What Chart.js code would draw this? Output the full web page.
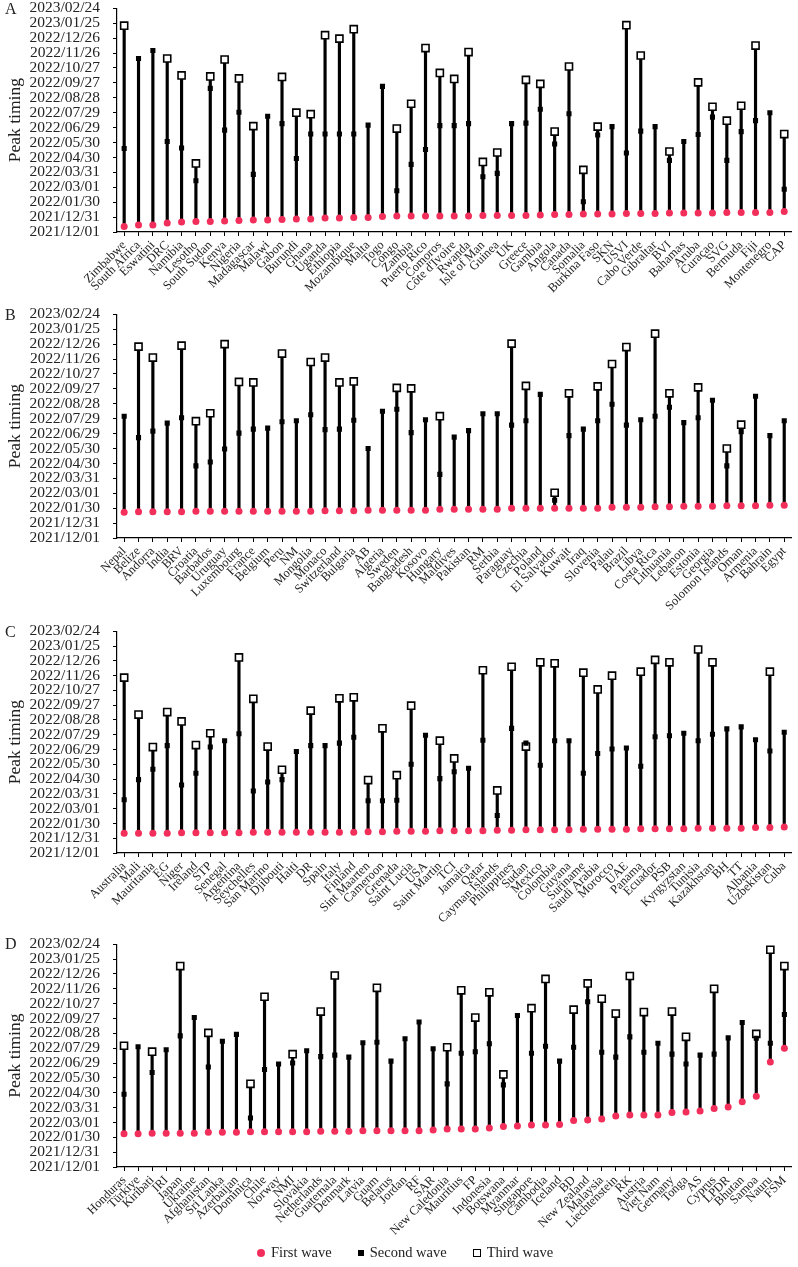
<!DOCTYPE html>
<html lang="en">
<head>
  <meta charset="UTF-8">
  <title>Peak timing</title>
  <style>
    body { margin: 0; background: #fff; width: 798px; height: 1267px; position: relative; overflow: hidden; }
    .panel { position: absolute; left: 0; width: 798px; }
    .tag { position: absolute; left: 5px; font: 16px "Liberation Serif", serif; color: #222; }
    #legend { position: absolute; left: 6px; top: 1244px; width: 798px; display: flex; justify-content: center;
      align-items: center; font: 14.5px "Liberation Serif", serif; color: #222; }
    #legend .item { display: flex; align-items: center; margin: 0 13px; }
    #legend .mark { display: inline-block; box-sizing: border-box; margin-right: 6px; }
    .m1 { width: 8px; height: 8px; border-radius: 50%; background: #f22e5b; }
    .m2 { width: 6px; height: 6px; background: #000; }
    .m3 { width: 8px; height: 8px; background: #fff; border: 1.6px solid #000; }
  </style>
</head>
<body>
  <div class="panel" style="top:-14px;height:326px"><canvas id="chartA"></canvas></div>
  <div class="panel" style="top:292px;height:326px"><canvas id="chartB"></canvas></div>
  <div class="panel" style="top:609px;height:324px"><canvas id="chartC"></canvas></div>
  <div class="panel" style="top:922px;height:325px"><canvas id="chartD"></canvas></div>
  <span class="tag" style="top:0px">A</span>
  <span class="tag" style="top:306px">B</span>
  <span class="tag" style="top:623px">C</span>
  <span class="tag" style="top:935px">D</span>
  <div id="legend">
    <span class="item"><i class="mark m1"></i>First wave</span>
    <span class="item"><i class="mark m2"></i>Second wave</span>
    <span class="item"><i class="mark m3"></i>Third wave</span>
  </div>
  <script src="https://cdn.jsdelivr.net/npm/chart.js"></script>
  <script>
    // y values are days after 2021/12/01
    const dateTicks = ["2021/12/01", "2021/12/31", "2022/01/30", "2022/03/01", "2022/03/31", "2022/04/30",
      "2022/05/30", "2022/06/29", "2022/07/29", "2022/08/28", "2022/09/27", "2022/10/27",
      "2022/11/26", "2022/12/26", "2023/01/25", "2023/02/24"];

    const countriesA = ["Zimbabwe", "South Africa", "Eswatini", "DRC", "Namibia", "Lesotho", "South Sudan", "Kenya",
      "Nigeria", "Madagascar", "Malawi", "Gabon", "Burundi", "Ghana", "Uganda", "Ethiopia", "Mozambique", "Malta",
      "Togo", "Congo", "Zambia", "Puerto Rico", "Comoros", "Côte d'Ivoire", "Rwanda", "Isle of Man", "Guinea", "UK",
      "Greece", "Gambia", "Angola", "Canada", "Somalia", "Burkina Faso", "SKN", "USVI", "Cabo Verde", "Gibraltar",
      "BVI", "Bahamas", "Aruba", "Curaçao", "SVG", "Bermuda", "Fiji", "Montenegro", "CAP"];
    const firstA = [11, 14, 14, 18, 20, 21, 21, 22, 23, 24, 24, 25, 26, 26, 28, 28, 29, 29, 31, 32, 32, 32, 32, 32,
      32, 33, 33, 33, 33, 34, 35, 35, 36, 36, 36, 37, 37, 37, 38, 38, 38, 38, 39, 39, 39, 39, 41];
    const secondA = [168, 349, 365, 182, 169, 103, 289, 205, 241, 116, 233, 218, 148, 197, 197, 197, 197, 215, 293,
      83, 136, 166, 214, 214, 218, 111, 118, 218, 219, 247, 177, 238, 61, 195, 212, 159, 203, 212, 144, 182, 196,
      231, 144, 202, 224, 240, 86];
    const thirdA = [415, null, null, 349, 315, 138, 313, 347, 309, 213, null, 312, 240, 237, 396, 389, 408, null,
      null, 208, 258, 370, 320, 308, 362, 141, 160, null, 306, 298, 202, 333, 125, 212, null, 416, 355, null, 162,
      null, 301, 252, 224, 254, 375, null, 197];

    const countriesB = ["Nepal", "Belize", "Andorra", "India", "BRV", "Croatia", "Barbados", "Uruguay", "Luxembourg",
      "France", "Belgium", "Peru", "NM", "Mongolia", "Monaco", "Switzerland", "Bulgaria", "AB", "Algeria", "Sweden",
      "Bangladesh", "Kosovo", "Hungary", "Maldives", "Pakistan", "RM", "Serbia", "Paraguay", "Czechia", "Poland",
      "El Salvador", "Kuwait", "Iraq", "Slovenia", "Palau", "Brazil", "Libya", "Costa Rica", "Lithuania", "Lebanon",
      "Estonia", "Georgia", "Solomon Islands", "Oman", "Armenia", "Bahrain", "Egypt"];
    const firstB = [52, 53, 53, 53, 53, 54, 54, 54, 54, 54, 54, 54, 54, 54, 55, 55, 55, 56, 56, 56, 56, 56, 58, 58,
      58, 58, 58, 60, 60, 60, 60, 60, 60, 60, 62, 62, 62, 63, 63, 64, 64, 64, 65, 65, 65, 66, 66];
    const secondB = [245, 202, 215, 231, 242, 145, 153, 179, 211, 219, 221, 234, 236, 248, 218, 219, 237, 180, 255,
      259, 212, 238, 128, 203, 216, 250, 250, 227, 236, 289, 76, 206, 219, 236, 269, 227, 238, 245, 263, 232, 242,
      277, 145, 214, 285, 206, 236];
    const thirdB = [null, 385, 363, null, 387, 235, 251, 390, 314, 313, null, 371, null, 354, 363, 313, 315, null,
      null, 302, 301, null, 245, null, null, null, null, 391, 306, null, 91, 291, null, 305, 350, 384, null, 411,
      291, null, 303, null, 180, 228, null, null, null];

    const countriesC = ["Australia", "Mali", "Mauritania", "EG", "Niger", "Ireland", "STP", "Senegal", "Argentina",
      "Seychelles", "San Marino", "Djibouti", "Haiti", "DR", "Spain", "Italy", "Finland", "Sint Maarten", "Cameroon",
      "Grenada", "Saint Lucia", "USA", "Saint Martin", "TCI", "Jamaica", "Qatar", "Cayman Islands", "Philippines",
      "Sudan", "Mexico", "Colombia", "Guyana", "Suriname", "Saudi Arabia", "Morocco", "UAE", "Panama", "Ecuador",
      "PSB", "Kyrgyzstan", "Tunisia", "Kazakhstan", "BH", "TT", "Albania", "Uzbekistan", "Cuba"];
    const firstC = [40, 40, 40, 40, 41, 41, 41, 41, 41, 42, 42, 42, 42, 42, 42, 42, 42, 43, 43, 44, 44, 44, 45, 45,
      45, 45, 46, 46, 47, 47, 47, 47, 48, 48, 48, 48, 49, 49, 49, 49, 50, 50, 50, 50, 52, 52, 53];
    const secondC = [108, 149, 170, 218, 138, 162, 215, 228, 242, 126, 144, 149, 206, 218, 218, 223, 235, 106, 106,
      107, 180, 239, 151, 165, 172, 229, 76, 253, 223, 178, 228, 228, 162, 202, 211, 213, 176, 236, 238, 243, 228,
      241, 252, 256, 230, 207, 245];
    const thirdC = [356, 281, 215, 286, 267, 219, 243, null, 397, 313, 216, 169, null, 289, null, 314, 316, 148,
      253, 158, 299, null, 228, 192, null, 371, 127, 378, 216, 387, 385, null, 366, 332, 360, null, 368, 392, 387,
      null, 413, 387, null, null, null, 368, null];

    const countriesD = ["Honduras", "Türkiye", "Kiribati", "IRI", "Japan", "Ukraine", "Afghanistan", "Sri Lanka",
      "Azerbaijan", "Dominica", "Chile", "Norway", "NMI", "Slovakia", "Netherlands", "Guatemala", "Denmark", "Latvia",
      "Guam", "Belarus", "Jordan", "RF", "SAR", "New Caledonia", "Mauritius", "FP", "Indonesia", "Botswana",
      "Myanmar", "Singapore", "Cambodia", "Iceland", "BD", "New Zealand", "Malaysia", "Liechtenstein", "RK",
      "Austria", "Viet Nam", "Germany", "Tonga", "AS", "Cyprus", "LPDR", "Bhutan", "Samoa", "Nauru", "FSM"];
    const firstD = [67, 67, 68, 68, 68, 68, 70, 70, 70, 71, 71, 71, 71, 71, 72, 72, 72, 73, 73, 73, 73, 73, 75, 77,
      77, 77, 79, 82, 83, 85, 85, 86, 94, 95, 97, 103, 105, 105, 105, 110, 111, 113, 118, 121, 132, 143, 212, 240];
    const secondD = [147, 243, 191, 237, 265, 302, 202, 254, 268, 99, 197, 208, 210, 235, 223, 226, 222, 251, 252,
      214, 259, 293, 239, 168, 230, 233, 249, 166, 306, 230, 244, 214, 242, 334, 232, 222, 263, 232, 250, 228, 208,
      226, 228, 261, 292, 260, 250, 308];
    const thirdD = [245, null, 233, null, 406, null, 271, null, null, 168, 344, null, 228, null, 314, 387, null, null,
      362, null, null, null, null, 242, 357, 302, 353, 187, null, 321, 380, null, 318, 371, 340, 310, 386, 313, null,
      314, 263, null, 360, null, null, 269, 439, 406];

    const RED = "#f22e5b";
    const FONT = "'Liberation Serif', 'Times New Roman', serif";
    Chart.defaults.font.family = FONT;
    Chart.defaults.color = "#222";

    function makePanel(id, countries, first, second, third) {
      const stems = countries.map((_, i) => [first[i], Math.max(second[i] ?? 0, third[i] ?? 0)]);
      return new Chart(document.getElementById(id), {
        type: "bar",
        data: {
          labels: countries,
          datasets: [
            { type: "line", label: "First wave", data: first, showLine: false, pointStyle: "circle",
              pointRadius: 3.5, pointBackgroundColor: RED, pointBorderColor: RED, pointBorderWidth: 0 },
            { type: "line", label: "Second wave", data: second, showLine: false, pointStyle: "rect",
              pointRadius: 3.6, pointBackgroundColor: "#000", pointBorderColor: "#000", pointBorderWidth: 0 },
            { type: "line", label: "Third wave", data: third, showLine: false, pointStyle: "rect",
              pointRadius: 5, pointBackgroundColor: "#fff", pointBorderColor: "#000", pointBorderWidth: 1.6 },
            { type: "bar", label: "stem", data: stems, backgroundColor: "#000", barThickness: 2.5 },
          ],
        },
        options: {
          responsive: true,
          maintainAspectRatio: false,
          animation: false,
          layout: { padding: { left: 0, right: 3, top: 0, bottom: 0 } },
          plugins: {
            tooltip: { enabled: false },
            legend: { display: false },
          },
          scales: {
            x: {
              ticks: { autoSkip: false, maxRotation: 45, minRotation: 45, font: { size: 12.5 }, padding: 2 },
              grid: { drawOnChartArea: false, offset: false, tickLength: 4, color: "#000" },
              border: { color: "#000", width: 1.2 },
              afterFit: (scale) => { scale.height = 80; },
            },
            y: {
              min: 0,
              max: 450,
              ticks: {
                stepSize: 30,
                autoSkip: false,
                padding: 13,
                font: { size: 15.5 },
                callback: (v) => dateTicks[v / 30],
              },
              grid: { drawOnChartArea: false, tickLength: 4, color: "#000" },
              border: { color: "#000", width: 1.2 },
              title: { display: true, text: "Peak timing", font: { size: 17.5 }, padding: 5 },
              afterFit: (scale) => { scale.width = 117; },
            },
          },
        },
      });
    }

    makePanel("chartA", countriesA, firstA, secondA, thirdA);
    makePanel("chartB", countriesB, firstB, secondB, thirdB);
    makePanel("chartC", countriesC, firstC, secondC, thirdC);
    makePanel("chartD", countriesD, firstD, secondD, thirdD);
  </script>
</body>
</html>
